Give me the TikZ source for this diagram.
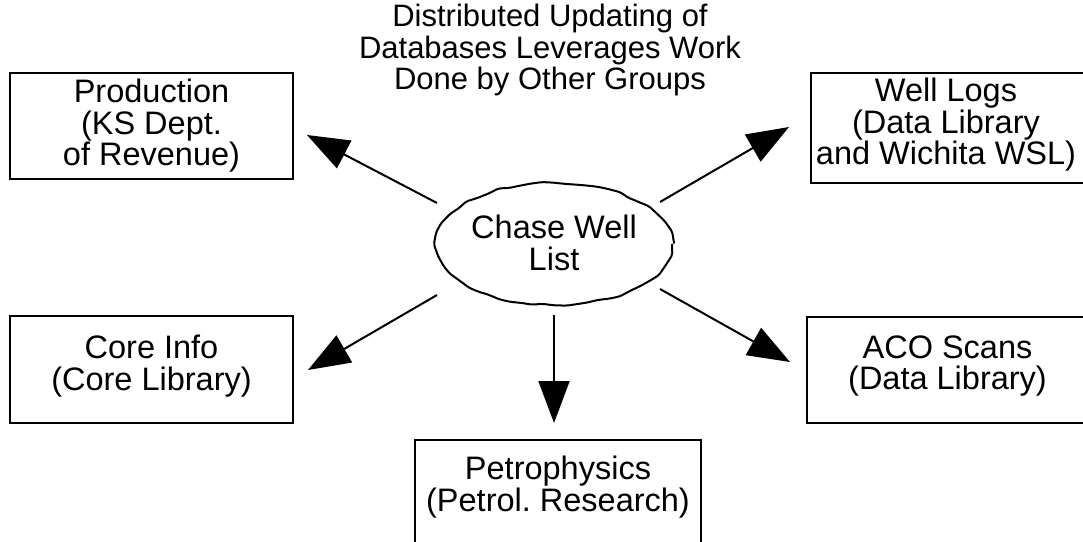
\documentclass[tikz,border=0pt]{standalone}
\usepackage{fontspec}
\setmainfont{Liberation Sans}
\usetikzlibrary{arrows.meta,decorations.pathmorphing}
\frenchspacing
\begin{document}
\begin{tikzpicture}[x=1pt,y=-1pt,
  txt/.style={font=\fontsize{32.5}{31.5}\selectfont, align=center, inner sep=0pt},
  ttl/.style={font=\fontsize{31}{31.5}\selectfont, align=center, inner sep=0pt},
  boxline/.style={draw, line width=2pt},
  conn/.style={line width=2pt, -{Triangle[length=42pt,width=31pt]}},
  wavy/.style={draw, line width=2pt, decorate, decoration={random steps, segment length=11pt, amplitude=1.3pt}, rounded corners=2pt}]
\useasboundingbox (0,0) rectangle (1083,541);
% title
\node[ttl] (title) at (550,50) {Distributed Updating of\\Databases Leverages Work\\Done by Other Groups};
% boxes
\draw[boxline] (10,73) rectangle (293,179);
\node[txt] (prod) at (151.5,126) {Production\\(KS Dept.\\of Revenue)};
\draw[boxline] (811,73) rectangle (1086,183);
\node[txt] (well) at (946,125) {Well Logs\\(Data Library\\and Wichita WSL)};
\draw[boxline] (10,316) rectangle (293,423);
\node[txt] (core) at (151.5,366) {Core Info\\(Core Library)};
\draw[boxline] (807,317) rectangle (1088,423);
\node[txt] (aco) at (947.5,366) {ACO Scans\\(Data Library)};
\draw[boxline] (415,440) rectangle (701,560);
\node[txt] (petro) at (558,487) {Petrophysics\\(Petrol. Research)};
% ellipse
\draw[wavy] (554,244) ellipse [x radius=118, y radius=61];
\node[txt] (chase) at (554,243) {Chase Well\\List};
% arrow ends
\coordinate (s1) at (437,203); \coordinate (t1) at (307,135);
\coordinate (s2) at (660,202); \coordinate (t2) at (789,127);
\coordinate (s3) at (437,295); \coordinate (t3) at (308,370);
\coordinate (s4) at (660,289); \coordinate (t4) at (790,362);
\coordinate (s5) at (554,315); \coordinate (t5) at (554,423);
\draw[conn] (s1) -- (t1);
\draw[conn] (s2) -- (t2);
\draw[conn] (s3) -- (t3);
\draw[conn] (s4) -- (t4);
\draw[conn] (s5) -- (t5);
\end{tikzpicture}
\end{document}
